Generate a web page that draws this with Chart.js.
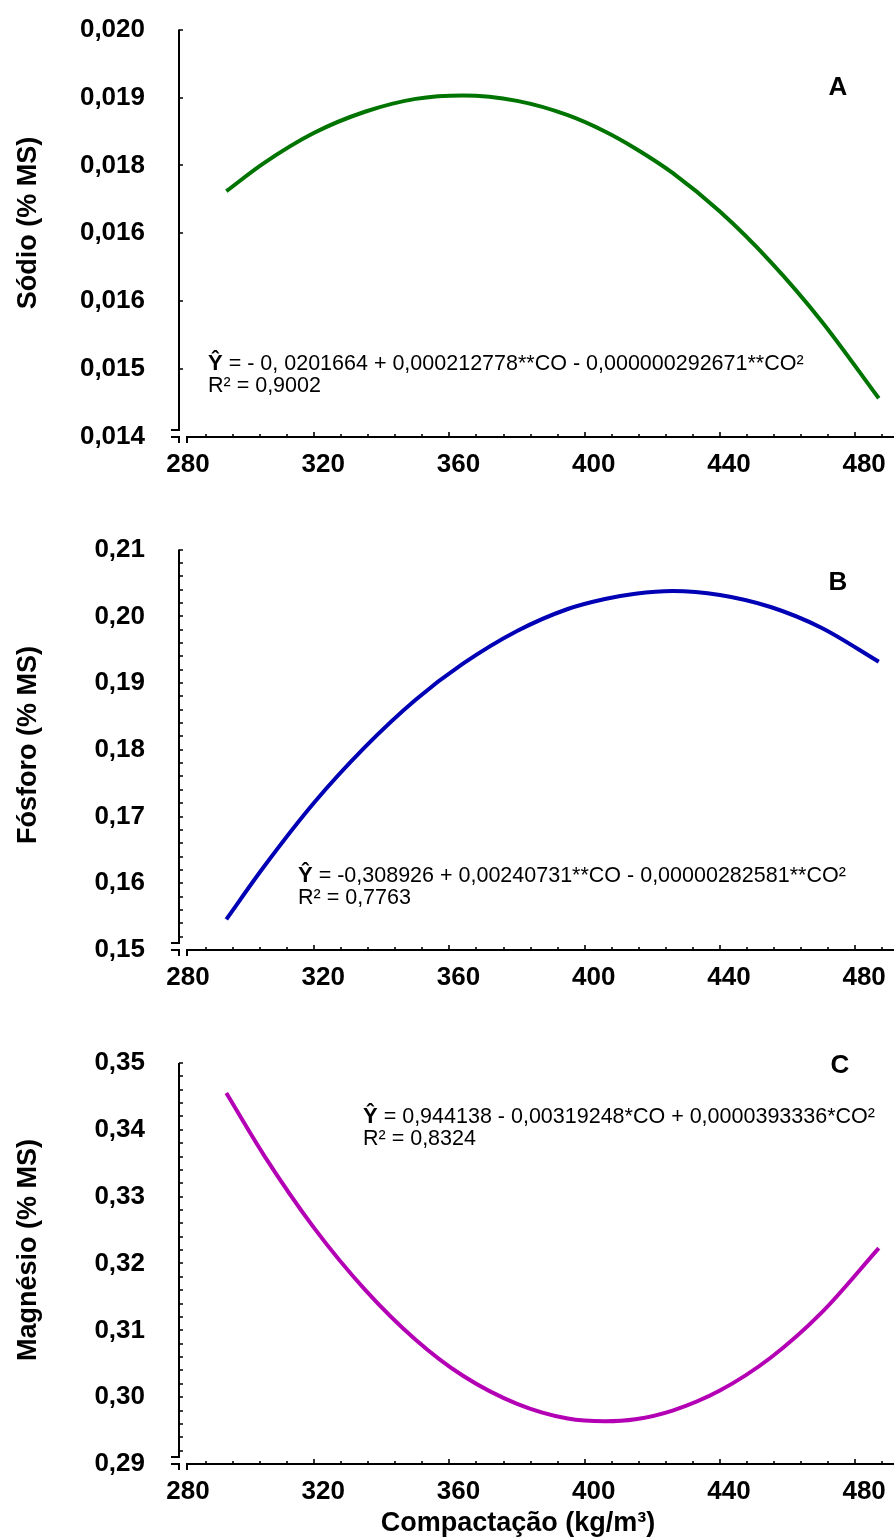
<!DOCTYPE html>
<html>
<head>
<meta charset="utf-8">
<script src="https://cdn.jsdelivr.net/npm/chart.js@4.4.1/dist/chart.umd.min.js"></script>
<style>
  body { margin: 0; background: #fff; overflow: hidden; }
  .panel { position: absolute; left: 0; width: 894px; }
  .panel canvas { display: block; }
</style>
</head>
<body>
<div class="panel" style="top:-20px;height:520px"><canvas id="chartA"></canvas></div>
<div class="panel" style="top:500px;height:510px"><canvas id="chartB"></canvas></div>
<div class="panel" style="top:1010px;height:529px"><canvas id="chartC"></canvas></div>
<script>
// compaction (kg/m3) and fitted contents (% MS)
const compactacao = [294, 305, 320, 335, 350, 364, 380, 395, 406, 415, 426, 440, 455, 470, 487];
const sodio    = [0.01762, 0.01803, 0.01848, 0.01879, 0.01898, 0.01903, 0.01895, 0.01874, 0.01850, 0.01825, 0.01789, 0.01732, 0.01658, 0.01571, 0.01457];
const fosforo  = [0.1546, 0.1624, 0.1721, 0.1804, 0.1875, 0.1929, 0.1978, 0.2011, 0.2026, 0.2034, 0.2038, 0.2032, 0.2014, 0.1983, 0.1932];
const magnesio = [0.3455, 0.3363, 0.3253, 0.3161, 0.3086, 0.3032, 0.2990, 0.2968, 0.2964, 0.2967, 0.2980, 0.3010, 0.3059, 0.3126, 0.3223];

const xTicks = [280, 320, 360, 400, 440, 480];
const xTickLabels = ["280", "320", "360", "400", "440", "480"];
const xMin = 280, xMax = 491.5;

const sodioTicks = [0.014, 0.015, 0.016, 0.017, 0.018, 0.019, 0.020];
const sodioTickLabels = ["0,014", "0,015", "0,016", "0,016", "0,018", "0,019", "0,020"];
const fosforoTicks = [0.15, 0.16, 0.17, 0.18, 0.19, 0.20, 0.21];
const fosforoTickLabels = ["0,15", "0,16", "0,17", "0,18", "0,19", "0,20", "0,21"];
const magnesioTicks = [0.29, 0.30, 0.31, 0.32, 0.33, 0.34, 0.35];
const magnesioTickLabels = ["0,29", "0,30", "0,31", "0,32", "0,33", "0,34", "0,35"];

const FONT = '"Liberation Sans", Arial, sans-serif';

// axes with a break at the origin, ticks pointing inwards
const brokenAxes = {
  id: "brokenAxes",
  afterDraw(chart, args, opts) {
    const { ctx, chartArea: a, scales: { x, y } } = chart;
    ctx.save();
    ctx.strokeStyle = "#000";
    ctx.lineWidth = 2;
    ctx.beginPath();
    ctx.moveTo(a.left, a.top);
    ctx.lineTo(a.left, a.bottom - 7);
    ctx.lineTo(a.left - 8, a.bottom - 7);
    ctx.moveTo(a.left - 8, a.bottom);
    ctx.lineTo(a.left, a.bottom);
    ctx.lineTo(a.left, a.bottom + 6);
    ctx.moveTo(a.left + 8, a.bottom + 6);
    ctx.lineTo(a.left + 8, a.bottom);
    ctx.lineTo(a.right, a.bottom);
    ctx.stroke();

    ctx.lineWidth = 1.6;
    ctx.beginPath();
    // x ticks every 8 units, longer on the labelled ones
    for (let v = xMin + 8; v <= xMax; v += 8) {
      const px = Math.round(x.getPixelForValue(v));
      const len = (v % 40 === 0) ? 5 : 3;
      ctx.moveTo(px, a.bottom);
      ctx.lineTo(px, a.bottom - len);
    }
    // y ticks
    const yt = opts.yTicks;
    const step = opts.yMinor ? (yt[1] - yt[0]) / 5 : (yt[1] - yt[0]);
    const n = Math.round((yt[yt.length - 1] - yt[0]) / step);
    for (let i = 1; i <= n; i++) {
      const py = Math.round(y.getPixelForValue(yt[0] + i * step));
      ctx.moveTo(a.left, py);
      ctx.lineTo(a.left + 4, py);
    }
    ctx.stroke();
    ctx.restore();
  }
};

// axis titles, panel letter and regression equation
const panelText = {
  id: "panelText",
  afterDraw(chart, args, o) {
    const ctx = chart.ctx;
    ctx.save();
    ctx.fillStyle = "#000";
    ctx.textBaseline = "middle";
    ctx.textAlign = "center";

    ctx.font = "bold 27px " + FONT;
    ctx.save();
    ctx.translate(o.yTitle.x, o.yTitle.y);
    ctx.rotate(-Math.PI / 2);
    ctx.fillText(o.yTitle.text, 0, 0);
    ctx.restore();

    if (o.xTitle) {
      ctx.font = "bold 27px " + FONT;
      ctx.fillText(o.xTitle.text, o.xTitle.x, o.xTitle.y);
    }

    ctx.font = "bold 26px " + FONT;
    ctx.fillText(o.letter.text, o.letter.x, o.letter.y);

    ctx.textAlign = "left";
    ctx.textBaseline = "alphabetic";
    ctx.font = "bold 22px " + FONT;
    ctx.fillText("Ŷ", o.eq.x, o.eq.y);
    const w = ctx.measureText("Ŷ").width;
    ctx.font = "21.5px " + FONT;
    ctx.fillText(o.eq.text, o.eq.x + w, o.eq.y);
    ctx.fillText(o.eq.r2, o.eq.x, o.eq.y + 22);
    ctx.restore();
  }
};

function makeChart(id, values, color, yTicks, yLabels, yMinor, xHeight, text) {
  const yMin = yTicks[0], yMax = yTicks[yTicks.length - 1];
  return new Chart(document.getElementById(id), {
    type: "line",
    data: {
      datasets: [{
        data: compactacao.map((c, i) => ({ x: c, y: values[i] })),
        borderColor: color,
        borderWidth: 4,
        pointRadius: 0,
        cubicInterpolationMode: "monotone",
        fill: false
      }]
    },
    options: {
      responsive: true,
      maintainAspectRatio: false,
      animation: false,
      devicePixelRatio: 1,
      layout: { padding: { left: 0, right: 0, top: text.padTop, bottom: 0 } },
      plugins: {
        legend: { display: false },
        tooltip: { enabled: false },
        brokenAxes: { yTicks, yMinor },
        panelText: text
      },
      scales: {
        x: {
          type: "linear",
          min: xMin,
          max: xMax,
          grid: { display: false, drawTicks: false },
          border: { display: false },
          afterBuildTicks: s => { s.ticks = xTicks.map(v => ({ value: v })); },
          afterFit: s => { s.height = xHeight; },
          ticks: {
            color: "#000",
            padding: 12,
            labelOffset: 9,
            maxRotation: 0,
            font: { family: FONT, size: 26, weight: "bold" },
            callback: (v, i) => xTickLabels[i]
          }
        },
        y: {
          min: yMin,
          max: yMax,
          grid: { display: false, drawTicks: false },
          border: { display: false },
          afterBuildTicks: s => { s.ticks = yTicks.map(v => ({ value: v })); },
          afterFit: s => { s.width = 179; },
          ticks: {
            color: "#000",
            padding: 34,
            font: { family: FONT, size: 26, weight: "bold" },
            callback: (v, i) => yLabels[i]
          }
        }
      }
    },
    plugins: [brokenAxes, panelText]
  });
}

makeChart("chartA", sodio, "#007400", sodioTicks, sodioTickLabels, false, 63, {
  padTop: 49,
  yTitle: { text: "Sódio (% MS)", x: 29, y: 243 },
  letter: { text: "A", x: 838, y: 108 },
  eq: { x: 208, y: 390, text: " = - 0, 0201664 + 0,000212778**CO - 0,000000292671**CO²", r2: "R² = 0,9002" }
});

makeChart("chartB", fosforo, "#0000b4", fosforoTicks, fosforoTickLabels, true, 60, {
  padTop: 49,
  yTitle: { text: "Fósforo (% MS)", x: 29, y: 245 },
  letter: { text: "B", x: 838, y: 83 },
  eq: { x: 298, y: 382, text: " = -0,308926 + 0,00240731**CO - 0,00000282581**CO²", r2: "R² = 0,7763" }
});

makeChart("chartC", magnesio, "#b400b4", magnesioTicks, magnesioTickLabels, true, 75, {
  padTop: 53,
  yTitle: { text: "Magnésio (% MS)", x: 29, y: 240 },
  letter: { text: "C", x: 840, y: 56 },
  xTitle: { text: "Compactação (kg/m³)", x: 518, y: 514 },
  eq: { x: 363, y: 113, text: " = 0,944138 - 0,00319248*CO + 0,0000393336*CO²", r2: "R² = 0,8324" }
});
</script>
</body>
</html>
